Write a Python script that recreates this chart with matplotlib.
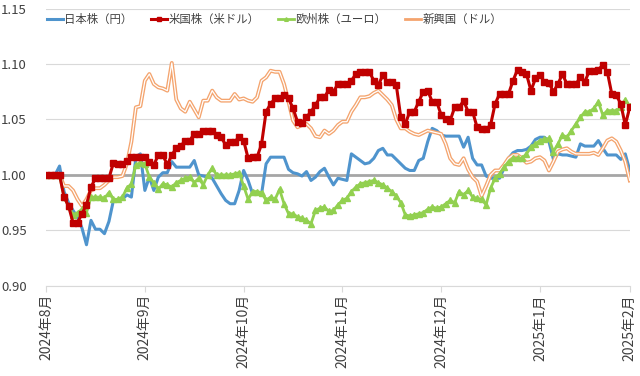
import matplotlib
matplotlib.use("Agg")
import matplotlib.pyplot as plt
import numpy as np

plt.rcParams['font.family'] = ['Noto Sans CJK JP', 'DejaVu Sans']

tick_labels = ["2024年8月", "2024年9月", "2024年10月", "2024年11月",
               "2024年12月", "2025年1月", "2025年2月"]
tick_index = [0, 22, 44, 66, 88, 110, 130]

names = ["日本株（円）", "米国株（米ドル）", "欧州株（ユーロ）", "新興国（ドル）"]

japan = [
    1.000, 1.000, 1.000, 1.008, 0.985, 0.975, 0.968, 0.962, 0.952, 0.937,
    0.959, 0.951, 0.951, 0.947, 0.958, 0.977, 0.978, 0.978, 0.982, 0.980,
    1.016, 1.019, 0.986, 0.998, 0.986, 0.998, 1.002, 1.002, 1.012, 1.007,
    1.007, 1.007, 1.007, 1.013, 1.000, 0.999, 0.998, 0.997, 0.990, 0.983,
    0.977, 0.974, 0.974, 0.986, 1.004, 0.995, 0.983, 0.983, 0.983, 1.010,
    1.016, 1.016, 1.016, 1.016, 1.005, 1.002, 1.001, 0.999, 1.003, 0.995,
    0.998, 1.003, 1.006, 0.998, 0.991, 0.997, 0.996, 0.995, 1.019, 1.016,
    1.013, 1.010, 1.011, 1.015, 1.022, 1.024, 1.018, 1.018, 1.014, 1.010,
    1.006, 1.004, 1.004, 1.013, 1.015, 1.030, 1.042, 1.040, 1.036, 1.035,
    1.035, 1.035, 1.035, 1.025, 1.034, 1.015, 1.009, 1.009, 0.999, 0.997,
    0.997, 0.997, 1.006, 1.015, 1.020, 1.022, 1.022, 1.023, 1.026, 1.032,
    1.034, 1.034, 1.030, 1.014, 1.019, 1.018, 1.018, 1.017, 1.016, 1.028,
    1.026, 1.026, 1.026, 1.031, 1.024, 1.018, 1.018, 1.018, 1.014, 1.019,
    1.004,
]

usa = [
    1.000, 1.000, 1.000, 1.000, 0.980, 0.972, 0.957, 0.957, 0.965, 0.973,
    0.989, 0.997, 0.997, 0.997, 0.997, 1.011, 1.010, 1.010, 1.013, 1.016,
    1.016, 1.016, 1.016, 1.012, 1.009, 1.018, 1.018, 1.009, 1.018, 1.024,
    1.026, 1.031, 1.031, 1.037, 1.037, 1.040, 1.040, 1.040, 1.036, 1.034,
    1.027, 1.030, 1.030, 1.034, 1.031, 1.015, 1.016, 1.016, 1.028, 1.057,
    1.064, 1.069, 1.069, 1.072, 1.069, 1.060, 1.048, 1.047, 1.052, 1.057,
    1.063, 1.070, 1.070, 1.077, 1.075, 1.082, 1.082, 1.082, 1.085, 1.091,
    1.093, 1.093, 1.093, 1.085, 1.081, 1.090, 1.084, 1.084, 1.081, 1.052,
    1.046, 1.057, 1.057, 1.066, 1.075, 1.076, 1.066, 1.066, 1.054, 1.050,
    1.049, 1.061, 1.061, 1.067, 1.057, 1.057, 1.043, 1.041, 1.041, 1.045,
    1.064, 1.073, 1.073, 1.073, 1.085, 1.095, 1.093, 1.091, 1.076, 1.087,
    1.090, 1.084, 1.083, 1.075, 1.082, 1.091, 1.082, 1.082, 1.082, 1.088,
    1.084, 1.094, 1.094, 1.095, 1.099, 1.093, 1.073, 1.072, 1.064, 1.045,
    1.061,
]

europe = [
    1.000, 1.000, 1.000, 1.000, 0.980, 0.972, 0.964, 0.966, 0.969, 0.966,
    0.980, 0.980, 0.980, 0.979, 0.984, 0.978, 0.978, 0.980, 0.988, 0.992,
    1.009, 1.011, 1.010, 0.998, 0.993, 0.987, 0.992, 0.991, 0.989, 0.993,
    0.995, 0.997, 0.998, 0.993, 0.997, 0.991, 1.000, 1.006, 1.000, 1.000,
    1.000, 1.000, 1.001, 1.002, 0.990, 0.978, 0.985, 0.985, 0.984, 0.977,
    0.980, 0.978, 0.987, 0.974, 0.965, 0.965, 0.962, 0.961, 0.959, 0.956,
    0.968, 0.970, 0.971, 0.967, 0.968, 0.973, 0.977, 0.979, 0.985, 0.989,
    0.992, 0.993, 0.994, 0.995, 0.993, 0.991, 0.988, 0.985, 0.981, 0.975,
    0.964, 0.963, 0.964, 0.965, 0.966, 0.969, 0.971, 0.970, 0.971, 0.974,
    0.977, 0.975, 0.985, 0.982, 0.986, 0.980, 0.979, 0.978, 0.973, 0.988,
    0.997, 1.001, 1.007, 1.012, 1.015, 1.015, 1.015, 1.019, 1.025, 1.028,
    1.031, 1.032, 1.033, 1.021, 1.028, 1.036, 1.034, 1.040, 1.046, 1.052,
    1.057, 1.057, 1.060, 1.066, 1.054, 1.058, 1.058, 1.058, 1.061, 1.068,
    1.062,
]

emerging = [
    1.000, 1.000, 1.000, 1.000, 0.990, 0.990, 0.986, 0.978, 0.972, 0.978,
    0.986, 0.988, 0.988, 0.991, 0.995, 0.998, 0.998, 0.999, 1.010, 1.030,
    1.061, 1.062, 1.085, 1.091, 1.082, 1.079, 1.078, 1.076, 1.101, 1.068,
    1.060, 1.057, 1.066, 1.059, 1.052, 1.067, 1.067, 1.076, 1.070, 1.067,
    1.067, 1.067, 1.073, 1.068, 1.069, 1.067, 1.066, 1.070, 1.085, 1.088,
    1.094, 1.093, 1.093, 1.082, 1.066, 1.049, 1.043, 1.045, 1.046, 1.042,
    1.035, 1.034, 1.040, 1.037, 1.040, 1.045, 1.048, 1.048, 1.057, 1.063,
    1.070, 1.070, 1.071, 1.074, 1.076, 1.072, 1.068, 1.063, 1.050, 1.042,
    1.042, 1.039, 1.037, 1.036, 1.038, 1.040, 1.039, 1.038, 1.037, 1.028,
    1.015, 1.010, 1.009, 1.015, 1.005, 0.998, 0.994, 0.981, 0.990, 1.000,
    1.004, 1.004, 1.009, 1.015, 1.018, 1.018, 1.015, 1.011, 1.012, 1.015,
    1.016, 1.013, 1.004, 1.012, 1.021, 1.023, 1.024, 1.021, 1.019, 1.019,
    1.019, 1.019, 1.020, 1.018, 1.024, 1.031, 1.033, 1.030, 1.022, 1.012,
    0.995,
]

baseline = 1.0

x = np.arange(len(japan))

fig = plt.figure(figsize=(6.4, 3.76), dpi=100)
ax = fig.add_axes([0.072, 0.240, 0.912, 0.737])

c_blue = "#4f94cd"
c_red = "#c00000"
c_green = "#92d050"
c_orange = "#f4a46e"

ax.axhline(baseline, color="#a6a6a6", lw=2.0, zorder=2)

l1, = ax.plot(x, japan, color=c_blue, lw=2.2, zorder=3, label=names[0])
l2, = ax.plot(x, usa, color=c_red, lw=2.2, marker="s", ms=4.2,
              mec=c_red, mfc=c_red, zorder=5, label=names[1])
l3, = ax.plot(x, europe, color=c_green, lw=2.0, marker="^", ms=3.8,
              mec=c_green, mfc=c_green, zorder=4, label=names[2])
ax.plot(x, emerging, color=c_orange, lw=2.8, zorder=3.5)
ax.plot(x, emerging, color="white", lw=0.9, zorder=3.6)
l4, = ax.plot([], [], color=c_orange, lw=2.0, label=names[3])

ax.set_xlim(0, 130)
ax.set_ylim(0.90, 1.15)
yt = np.arange(0.90, 1.151, 0.05)
ax.set_yticks(yt)
ax.set_yticklabels([f"{v:.2f}" for v in yt], fontsize=9.5, color="#404040")
ax.yaxis.grid(True, color="#d9d9d9", lw=0.8)
ax.set_axisbelow(True)
ax.tick_params(axis="y", length=0, pad=14)

ax.set_xticks(tick_index)
ax.set_xticklabels(tick_labels, rotation=90, fontsize=10, color="#404040")
ax.tick_params(axis="x", length=4, color="#d9d9d9", pad=2)

for s in ["top", "right", "left"]:
    ax.spines[s].set_visible(False)
ax.spines["bottom"].set_color("#d9d9d9")

leg = fig.legend(handles=[l1, l2, l3, l4], loc="center left", ncol=4,
                 bbox_to_anchor=(0.066, 0.948), frameon=False, fontsize=8.2,
                 handlelength=1.4, handletextpad=0.15, columnspacing=1.6,
                 markerscale=0.7, borderaxespad=0)
for t in leg.get_texts():
    t.set_color("#404040")

fig.savefig("out.png", dpi=100)
